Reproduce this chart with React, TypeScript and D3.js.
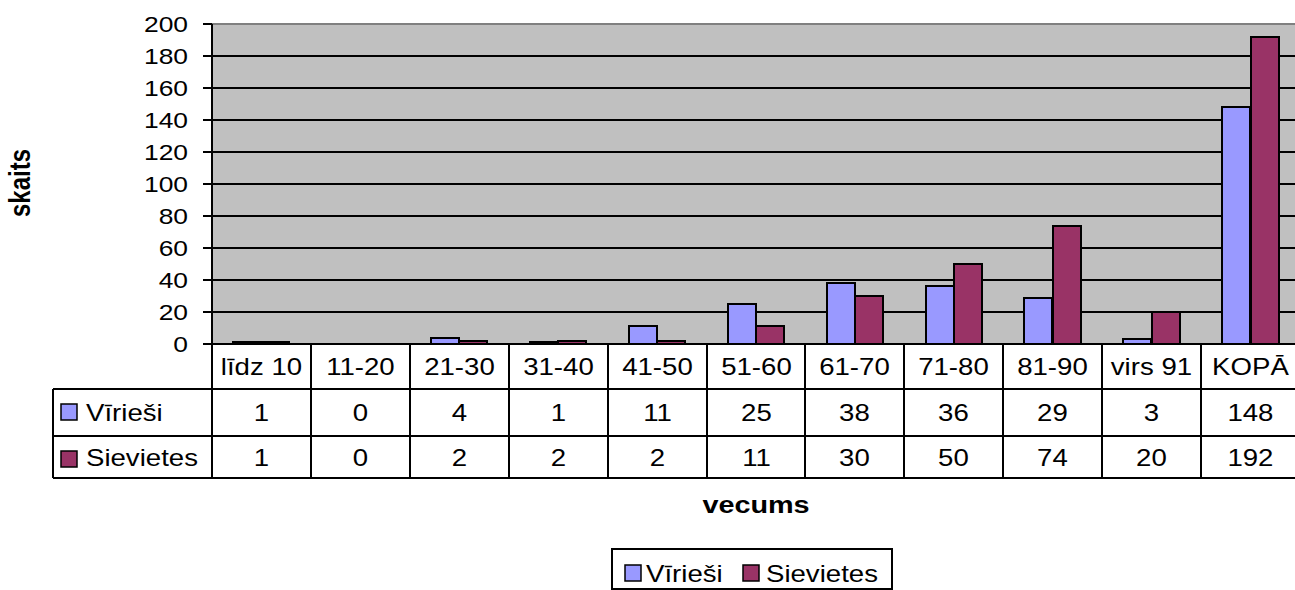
import React from "react";
import * as d3 from "d3";

const categories = ["līdz 10", "11-20", "21-30", "31-40", "41-50", "51-60", "61-70", "71-80", "81-90", "virs 91", "KOPĀ"];
const males = [1, 0, 4, 1, 11, 25, 38, 36, 29, 3, 148];
const females = [1, 0, 2, 2, 2, 11, 30, 50, 74, 20, 192];
const seriesNames = ["Vīrieši", "Sievietes"];
const seriesColors = ["#9999FF", "#993366"];
const yTicks = [0, 20, 40, 60, 80, 100, 120, 140, 160, 180, 200];

const FONT = "'Liberation Sans', Arial, sans-serif";
const SX = 1.2; // the original text is a bit wider than tall

const T = ({ x, y, size = 22, anchor = "middle", bold = false, children }: any) => (
  <text
    transform={`translate(${x},${y}) scale(${SX},1)`}
    textAnchor={anchor}
    fontFamily={FONT}
    fontSize={size}
    fontWeight={bold ? "bold" : "normal"}
    fill="#000"
  >
    {children}
  </text>
);

const App = () => {
  const width = 1295;
  const height = 590;
  const left = 212;
  const right = 1300;
  const top = 24;
  const bottom = 344;
  const rows = [344, 389, 436, 478];
  const tableLeft = 53;

  const x = d3.scaleBand().domain(categories).range([left, right]);
  const y = d3.scaleLinear().domain([0, 200]).range([bottom, top]);
  const step = x.step();
  const barW = step / 3.5;
  const data = [males, females];
  const gy = (t: number) => Math.round(y(t));

  return (
    <svg width={width} height={height} style={{ position: "absolute", left: 0, top: 0 }}>
      <rect x={0} y={0} width={width} height={height} fill="#fff" />
      {/* plot area */}
      <rect x={left} y={top} width={right - left} height={bottom - top} fill="#C0C0C0" />
      <line x1={left} x2={right} y1={top} y2={top} stroke="#808080" strokeWidth={2} />
      {yTicks.slice(1, -1).map((t) => (
        <line key={t} x1={left} x2={right} y1={gy(t)} y2={gy(t)} stroke="#000" strokeWidth={2} />
      ))}
      {/* bars */}
      {data.map((vals, s) =>
        vals.map((v, i) => {
          const cx = (x(categories[i]) as number) + step / 2;
          const bx = Math.round(cx - barW + s * barW);
          if (v === 0) return null;
          return (
            <rect
              key={`${s}-${i}`}
              x={bx}
              y={Math.round(y(v))}
              width={Math.round(barW)}
              height={bottom - Math.round(y(v))}
              fill={seriesColors[s]}
              stroke="#000"
              strokeWidth={2}
            />
          );
        })
      )}
      {/* y axis */}
      <line x1={left} x2={left} y1={top} y2={rows[3]} stroke="#000" strokeWidth={2} />
      {yTicks.map((t) => (
        <g key={t}>
          <line x1={left - 9} x2={left} y1={gy(t)} y2={gy(t)} stroke="#000" strokeWidth={2} />
          <T x={188} y={gy(t) + 8} anchor="end">{t}</T>
        </g>
      ))}
      {/* data table */}
      <line x1={left} x2={right} y1={rows[0]} y2={rows[0]} stroke="#000" strokeWidth={2} />
      {rows.slice(1).map((r) => (
        <line key={r} x1={tableLeft} x2={right} y1={r} y2={r} stroke="#000" strokeWidth={2} />
      ))}
      <line x1={tableLeft} x2={tableLeft} y1={rows[1]} y2={rows[3]} stroke="#000" strokeWidth={2} />
      {categories.map((c, i) => {
        const x0 = Math.round(x(c) as number);
        return (
          <g key={c}>
            {i > 0 && <line x1={x0} x2={x0} y1={rows[0]} y2={rows[3]} stroke="#000" strokeWidth={2} />}
            <T x={x0 + step / 2} y={rows[0] + 31} size={23}>{c}</T>
            <T x={x0 + step / 2} y={rows[1] + 32} size={23}>{males[i]}</T>
            <T x={x0 + step / 2} y={rows[2] + 30} size={23}>{females[i]}</T>
          </g>
        );
      })}
      {seriesNames.map((n, s) => (
        <g key={n}>
          <rect x={61} y={rows[s + 1] + 15} width={16} height={16} fill={seriesColors[s]} stroke="#000" strokeWidth={1.5} />
          <T x={86} y={rows[s + 1] + (s === 0 ? 32 : 30)} anchor="start" size={23}>{n}</T>
        </g>
      ))}
      {/* axis titles */}
      <text
        transform={`translate(30,183) rotate(-90) scale(1,${SX})`}
        textAnchor="middle"
        fontFamily={FONT}
        fontSize={24}
        fontWeight="bold"
      >
        skaits
      </text>
      <T x={756} y={513} size={24} bold>vecums</T>
      {/* legend */}
      <rect x={612} y={549} width={280} height={40} fill="#fff" stroke="#000" strokeWidth={2} />
      <rect x={625} y={565} width={16} height={16} fill={seriesColors[0]} stroke="#000" strokeWidth={1.5} />
      <T x={646} y={582} anchor="start" size={23}>{seriesNames[0]}</T>
      <rect x={743} y={565} width={16} height={16} fill={seriesColors[1]} stroke="#000" strokeWidth={1.5} />
      <T x={766} y={582} anchor="start" size={23}>{seriesNames[1]}</T>
    </svg>
  );
};

export default App;
